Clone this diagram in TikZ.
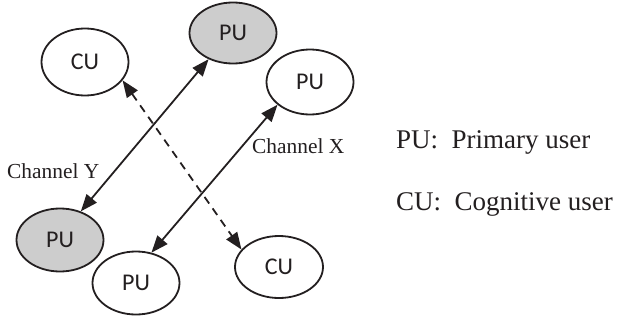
\documentclass[tikz,border=0pt]{standalone}
\usepackage{fontspec}
\setmainfont{Liberation Serif}
\newfontfamily\nodefont{Carlito}
\usetikzlibrary{shapes.geometric,arrows.meta}
\definecolor{ink}{RGB}{35,31,32}
\definecolor{pufill}{RGB}{205,205,205}
\tikzset{
  user/.style={ellipse, draw=ink, line width=1.8pt, minimum width=87pt,
    minimum height=64pt, inner sep=0pt, font=\nodefont\fontsize{24}{24}\selectfont, text=ink},
  busy/.style={user, fill=pufill},
  link/.style={draw=ink, line width=1.8pt, {Triangle[length=17pt,width=13pt]}-{Triangle[length=17pt,width=13pt]}},
  sense/.style={link, dash pattern=on 8pt off 6pt},
  chlabel/.style={anchor=base west, inner sep=0pt, text=ink, font=\fontsize{21.4}{22}\selectfont},
  legend/.style={anchor=base west, inner sep=0pt, text=ink, font=\fontsize{27}{28}\selectfont}
}
\begin{document}
\begin{tikzpicture}[x=1pt, y=-1pt]
  \useasboundingbox (0,0) rectangle (617,321);
  % users
  \node[user, minimum height=67pt] (cuA) at (85,62) {CU};
  \node[busy, minimum height=61pt] (puA) at (233,33) {PU};
  \node[user, minimum height=65pt] (puB) at (310,82) {PU};
  \node[busy, minimum height=63pt] (puC) at (60,240) {PU};
  \node[user, minimum height=63pt] (puD) at (136,283) {PU};
  \node[user, minimum height=62pt, minimum width=88pt] (cuB) at (279,267) {CU};
  % channels
  \draw[link] (puA.227) -- (puC.54);
  \draw[link] (puB.215) -- (puD.63);
  \draw[sense] (cuA.334) -- (cuB.155);
  \node[chlabel] (chy) at (7,178) {Channel Y};
  \node[chlabel] (chx) at (252,153) {Channel X};
  % legend
  \node[legend] (lgpu) at (396,148) {PU:\ \ Primary user};
  \node[legend] (lgcu) at (396,210) {CU:\ \ Cognitive user};
\end{tikzpicture}
\end{document}
